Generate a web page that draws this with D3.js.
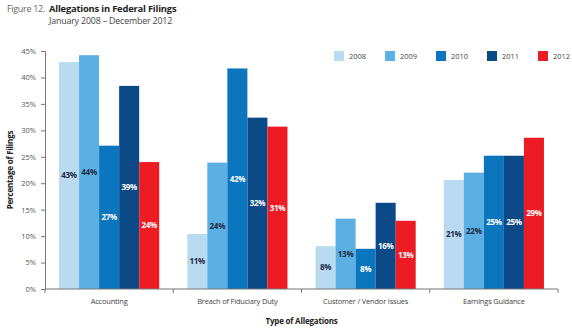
<!DOCTYPE html>
<html>
<head>
<meta charset="utf-8">
<script src="https://cdn.jsdelivr.net/npm/d3@7"></script>
<style>
  body { margin: 0; background: #fff; }
  svg { font-family: "Open Sans", "Noto Sans", sans-serif; }
</style>
</head>
<body>
<div id="chart"></div>
<script>
const categories = ["Accounting", "Breach of Fiduciary Duty", "Customer / Vendor Issues", "Earnings Guidance"];
const years = ["2008", "2009", "2010", "2011", "2012"];
const colors = ["#b9daf1", "#5bafe3", "#0b75bd", "#0c4a87", "#ed1c24"];
const labelColors = ["#1c2b45", "#1c2b45", "#fff", "#fff", "#fff"];
// values[category][year]
const values = [
  [42.9, 44.2, 27.1, 38.4, 24.0],
  [10.4, 23.9, 41.7, 32.4, 30.7],
  [8.1, 13.3, 7.6, 16.3, 12.9],
  [20.6, 22.0, 25.2, 25.2, 28.6]
];
const labels = [
  ["43%", "44%", "27%", "39%", "24%"],
  ["11%", "24%", "42%", "32%", "31%"],
  ["8%", "13%", "8%", "16%", "13%"],
  ["21%", "22%", "25%", "25%", "29%"]
];
const yTicks = [0, 5, 10, 15, 20, 25, 30, 35, 40, 45];

const width = 572, height = 330;
const margin = { top: 51, right: 14, bottom: 41, left: 45 };

const svg = d3.select("#chart").append("svg")
  .attr("width", width)
  .attr("height", height);

// title
svg.append("text")
  .attr("x", 45).attr("y", 12)
  .attr("text-anchor", "end")
  .attr("font-size", 9).attr("fill", "#666")
  .attr("letter-spacing", -0.3)
  .text("Figure 12.");
svg.append("text")
  .attr("x", 49).attr("y", 12)
  .attr("font-size", 9.4).attr("font-weight", 700).attr("fill", "#222")
  .attr("letter-spacing", -0.2)
  .text("Allegations in Federal Filings");
svg.append("text")
  .attr("x", 49).attr("y", 24)
  .attr("font-size", 8.8).attr("fill", "#444")
  .attr("letter-spacing", -0.15)
  .text("January 2008 \u2013 December 2012");

const x0 = d3.scaleBand()
  .domain(categories)
  .range([margin.left, width - margin.right])
  .padding(0);

const x1 = d3.scaleBand()
  .domain(years)
  .range([0, x0.bandwidth()])
  .paddingOuter(0.7)
  .paddingInner(0);

const y = d3.scaleLinear()
  .domain([0, 45])
  .range([height - margin.bottom, margin.top]);

// bars
const groups = svg.append("g").selectAll("g")
  .data(categories)
  .join("g")
  .attr("transform", d => `translate(${x0(d)},0)`);

groups.selectAll("rect")
  .data((c, ci) => years.map((yr, i) => ({ yr, i, v: values[ci][i] })))
  .join("rect")
  .attr("x", d => x1(d.yr))
  .attr("width", x1.bandwidth())
  .attr("y", d => y(d.v))
  .attr("height", d => y(0) - y(d.v))
  .attr("fill", d => colors[d.i]);

groups.selectAll("text")
  .data((c, ci) => years.map((yr, i) => ({ yr, i, v: values[ci][i], t: labels[ci][i] })))
  .join("text")
  .attr("x", d => x1(d.yr) + x1.bandwidth() / 2)
  .attr("y", d => (y(d.v) + y(0)) / 2)
  .attr("dy", "0.35em")
  .attr("text-anchor", "middle")
  .attr("font-size", 8)
  .attr("font-weight", 700)
  .attr("letter-spacing", -0.3)
  .attr("fill", d => labelColors[d.i])
  .text(d => d.t);

// y axis
const yAxis = svg.append("g")
  .attr("transform", `translate(${margin.left},0)`)
  .call(d3.axisLeft(y).tickValues(yTicks).tickFormat(d => d + "%").tickSize(4).tickPadding(5));
yAxis.select(".domain").attr("stroke", "#777");
yAxis.selectAll(".tick line").attr("stroke", "#777");
yAxis.selectAll(".tick text")
  .attr("font-family", "'Open Sans', 'Noto Sans', sans-serif")
  .attr("font-size", 7.5).attr("fill", "#555");

// x axis
const xAxisY = y(0);
svg.append("line")
  .attr("x1", margin.left).attr("x2", width - margin.right)
  .attr("y1", xAxisY).attr("y2", xAxisY)
  .attr("stroke", "#777");
const bounds = categories.map(c => x0(c)).concat([x0(categories[categories.length - 1]) + x0.bandwidth()]);
svg.append("g").selectAll("line")
  .data(bounds)
  .join("line")
  .attr("x1", d => d).attr("x2", d => d)
  .attr("y1", xAxisY).attr("y2", xAxisY + 4)
  .attr("stroke", "#777");
svg.append("g").selectAll("text")
  .data(categories)
  .join("text")
  .attr("x", d => x0(d) + x0.bandwidth() / 2)
  .attr("y", xAxisY + 15)
  .attr("text-anchor", "middle")
  .attr("font-size", 7.5)
  .attr("fill", "#444")
  .attr("letter-spacing", -0.2)
  .text(d => d);

// axis titles
svg.append("text")
  .attr("x", (margin.left + width - margin.right) / 2)
  .attr("y", 324)
  .attr("text-anchor", "middle")
  .attr("font-size", 8)
  .attr("font-weight", 700)
  .attr("fill", "#222")
  .attr("letter-spacing", -0.2)
  .text("Type of Allegations");
svg.append("text")
  .attr("transform", `translate(13,${(y(0) + y(45)) / 2}) rotate(-90)`)
  .attr("text-anchor", "middle")
  .attr("font-size", 8)
  .attr("font-weight", 700)
  .attr("fill", "#222")
  .attr("letter-spacing", -0.2)
  .text("Percentage of Filings");

// legend
const legend = svg.append("g").selectAll("g")
  .data(years)
  .join("g")
  .attr("transform", (d, i) => `translate(${334 + i * 51},51)`);
legend.append("rect")
  .attr("width", 10).attr("height", 10)
  .attr("fill", (d, i) => colors[i]);
legend.append("text")
  .attr("x", 15).attr("y", 5)
  .attr("dy", "0.35em")
  .attr("font-size", 7.5)
  .attr("fill", "#444")
  .text(d => d);
</script>
</body>
</html>
